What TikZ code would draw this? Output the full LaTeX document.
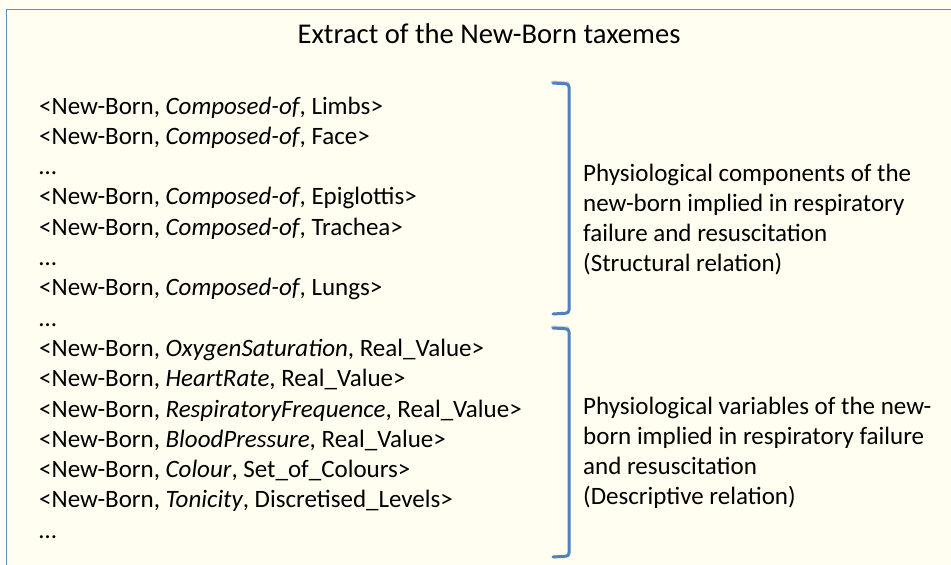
\documentclass[tikz,border=0pt]{standalone}
\usepackage{fontspec}
\setmainfont{Carlito}
\begin{document}
\begin{tikzpicture}[x=1pt,y=-1pt]
\definecolor{bgcream}{HTML}{FFFEF1}
\definecolor{framebl}{HTML}{5B8BC9}
\definecolor{brackbl}{HTML}{4F81BD}
\tikzset{
  txt/.style={anchor=base west, inner sep=0pt, font=\fontsize{25}{30}\selectfont},
  ttl/.style={anchor=base, inner sep=0pt, font=\fontsize{28.6}{34}\selectfont},
  brack/.style={draw=brackbl, line width=3pt, rounded corners=3pt, line cap=round},
  bshadow/.style={draw=black!18, line width=3pt, rounded corners=3pt, line cap=round}
}
\useasboundingbox (0,0) rectangle (951,565);
\fill[bgcream] (0,0) rectangle (951,565);
\draw[framebl, line width=1.6pt] (6.5,570) -- (6.5,9.5) -- (960,9.5);

\node[ttl] (title) at (489,43) {Extract of the New-Born taxemes};

\foreach \i/\t in {
  1/{<New-Born, \textit{Composed-of}, Limbs>},
  2/{<New-Born, \textit{Composed-of}, Face>},
  3/{…},
  4/{<New-Born, \textit{Composed-of}, Epiglottis>},
  5/{<New-Born, \textit{Composed-of}, Trachea>},
  6/{…},
  7/{<New-Born, \textit{Composed-of}, Lungs>},
  8/{…},
  9/{<New-Born, \textit{OxygenSaturation}, Real\_Value>},
  10/{<New-Born, \textit{HeartRate}, Real\_Value>},
  11/{<New-Born, \textit{RespiratoryFrequence}, Real\_Value>},
  12/{<New-Born, \textit{BloodPressure}, Real\_Value>},
  13/{<New-Born, \textit{Colour}, Set\_of\_Colours>},
  14/{<New-Born, \textit{Tonicity}, Discretised\_Levels>},
  15/{…}}
  \node[txt] (l\i) at (39,{114+(\i-1)*30.3}) {\t};

\foreach \i/\t in {
  1/{Physiological components of the},
  2/{new-born implied in respiratory},
  3/{failure and resuscitation},
  4/{(Structural relation)}}
  \node[txt] (a\i) at (583,{181+(\i-1)*30.3}) {\t};

\foreach \i/\t in {
  1/{Physiological variables of the new-},
  2/{born implied in respiratory failure},
  3/{and resuscitation},
  4/{(Descriptive relation)}}
  \node[txt] (b\i) at (583,{414+(\i-1)*30.3}) {\t};

\coordinate (p1) at (553,83);
\coordinate (p2) at (569,84);
\coordinate (p3) at (569,313);
\coordinate (p4) at (553,314);
\coordinate (q1) at (553,328);
\coordinate (q2) at (569,329);
\coordinate (q3) at (569,556);
\coordinate (q4) at (553,557);
\draw[bshadow] ([shift={(-1,-1)}]p1) -- ([shift={(-1,-1)}]p2);
\draw[bshadow] ([shift={(-1,-1)}]q1) -- ([shift={(-1,-1)}]q2);
\draw[brack] (p1) -- (p2) -- (p3) -- (p4);
\draw[brack] (q1) -- (q2) -- (q3) -- (q4);
\end{tikzpicture}
\end{document}
